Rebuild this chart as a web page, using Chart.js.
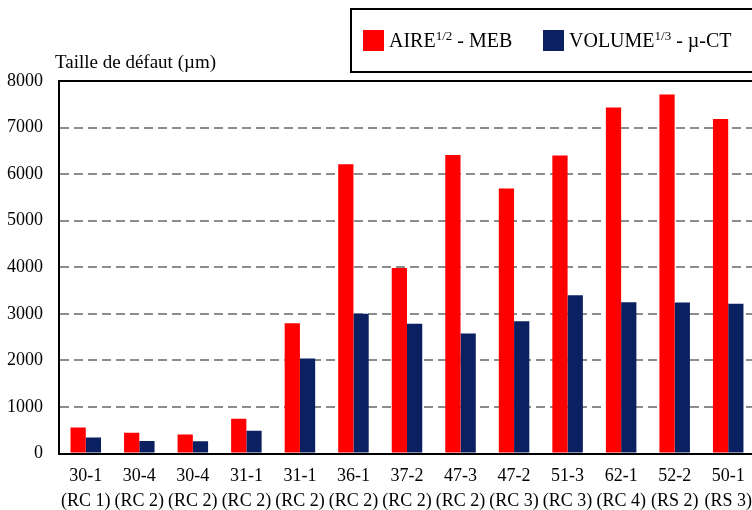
<!DOCTYPE html>
<html lang="fr">
<head>
<meta charset="UTF-8">
<title>Taille de défaut</title>
<script src="https://cdn.jsdelivr.net/npm/chart.js"></script>
<style>
    html, body { margin: 0; padding: 0; background: #fff; overflow: hidden; }
    #wrap { position: relative; width: 762px; height: 524px; }
</style>
</head>
<body>
<div id="wrap"><canvas id="chart"></canvas></div>
<script>
// données
const categories = [
    ['30-1', '(RC 1)'], ['30-4', '(RC 2)'], ['30-4', '(RC 2)'], ['31-1', '(RC 2)'],
    ['31-1', '(RC 2)'], ['36-1', '(RC 2)'], ['37-2', '(RC 2)'], ['47-3', '(RC 2)'],
    ['47-2', '(RC 3)'], ['51-3', '(RC 3)'], ['62-1', '(RC 4)'], ['52-2', '(RS 2)'],
    ['50-1', '(RS 3)']
];
const aireMeb = [560, 445, 410, 748, 2800, 6215, 3985, 6410, 5690, 6400, 7430, 7710, 7185];
const volumeCt = [345, 273, 265, 489, 2040, 3005, 2790, 2580, 2840, 3400, 3250, 3243, 3215];
const yTicks = [0, 1000, 2000, 3000, 4000, 5000, 6000, 7000, 8000];

const RED = '#ff0000';
const NAVY = '#0b2060';
const FONT = "'Liberation Serif', 'Times New Roman', serif";

// titre de l'axe, cadre du haut et légende dessinés à la main
const decor = {
    id: 'decor',
    afterDraw(chart) {
        const c = chart.ctx;
        const a = chart.chartArea;
        c.save();
        // trait du haut
        c.strokeStyle = '#000';
        c.lineWidth = 2;
        c.beginPath();
        c.moveTo(a.left, a.top);
        c.lineTo(a.right + 5, a.top);
        c.stroke();

        // titre axe y
        c.fillStyle = '#000';
        c.font = '19px ' + FONT;
        c.textBaseline = 'alphabetic';
        c.textAlign = 'left';
        c.fillText('Taille de défaut (µm)', 55, 68);

        // légende
        c.lineWidth = 2;
        c.strokeRect(351, 9, 460, 63);
        const items = [
            { color: RED, x: 363, base: 'AIRE', sup: '1/2', rest: ' - MEB' },
            { color: NAVY, x: 543, base: 'VOLUME', sup: '1/3', rest: ' - µ-CT' }
        ];
        items.forEach(it => {
            c.fillStyle = it.color;
            c.fillRect(it.x, 30, 21, 21);
            c.fillStyle = '#000';
            let x = it.x + 26;
            const y = 47;
            c.font = '20px ' + FONT;
            c.fillText(it.base, x, y);
            x += c.measureText(it.base).width;
            c.font = '13px ' + FONT;
            c.fillText(it.sup, x, y - 7);
            x += c.measureText(it.sup).width;
            c.font = '20px ' + FONT;
            c.fillText(it.rest, x, y);
        });
        c.restore();
    }
};

new Chart(document.getElementById('chart'), {
    type: 'bar',
    data: {
        labels: categories,
        datasets: [
            { label: 'AIRE1/2 - MEB', data: aireMeb, backgroundColor: RED },
            { label: 'VOLUME1/3 - µ-CT', data: volumeCt, backgroundColor: NAVY }
        ]
    },
    options: {
        responsive: true,
        maintainAspectRatio: false,
        animation: false,
        layout: { padding: { top: 81, right: 1, left: 0, bottom: 0 } },
        datasets: {
            bar: { barPercentage: 1, categoryPercentage: 0.57 }
        },
        plugins: {
            legend: { display: false },
            tooltip: { enabled: false }
        },
        scales: {
            x: {
                grid: { display: false, drawTicks: false },
                border: { color: '#000', width: 2 },
                ticks: {
                    color: '#000',
                    padding: 10,
                    maxRotation: 0,
                    autoSkip: false,
                    font: { family: FONT, size: 18, lineHeight: 1.4 }
                }
            },
            y: {
                min: 0,
                max: 8000,
                afterFit: s => { s.width = 59; },
                afterBuildTicks: s => { s.ticks = yTicks.map(v => ({ value: v })); },
                grid: { color: '#8c8c8c', lineWidth: 2, drawTicks: false },
                border: { color: '#000', width: 2, dash: [9, 5] },
                ticks: {
                    color: '#000',
                    padding: 16,
                    font: { family: FONT, size: 18 },
                    callback: v => String(v)
                }
            }
        }
    },
    plugins: [decor]
});
</script>
</body>
</html>
